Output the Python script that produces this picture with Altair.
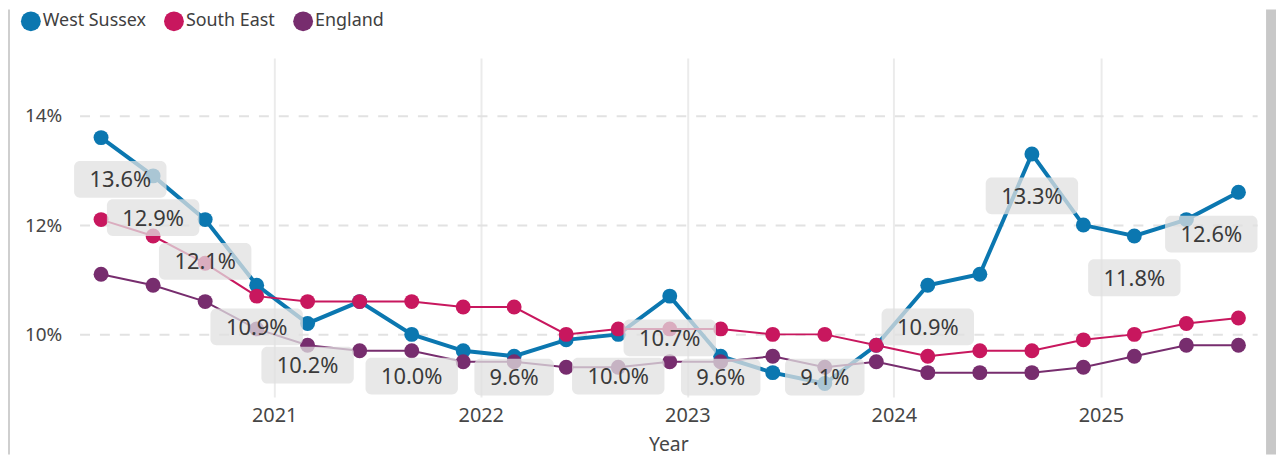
import altair as alt
import pandas as pd

# ---- data ----
dates = ["2020-03-01", "2020-06-01", "2020-09-01", "2020-12-01",
         "2021-03-01", "2021-06-01", "2021-09-01", "2021-12-01",
         "2022-03-01", "2022-06-01", "2022-09-01", "2022-12-01",
         "2023-03-01", "2023-06-01", "2023-09-01", "2023-12-01",
         "2024-03-01", "2024-06-01", "2024-09-01", "2024-12-01",
         "2025-03-01", "2025-06-01", "2025-09-01"]
west_sussex = [13.6, 12.9, 12.1, 10.9, 10.2, 10.6, 10.0, 9.7, 9.6, 9.9, 10.0, 10.7,
               9.6, 9.3, 9.1, 9.8, 10.9, 11.1, 13.3, 12.0, 11.8, 12.1, 12.6]
south_east = [12.1, 11.8, 11.3, 10.7, 10.6, 10.6, 10.6, 10.5, 10.5, 10.0, 10.1, 10.1,
              10.1, 10.0, 10.0, 9.8, 9.6, 9.7, 9.7, 9.9, 10.0, 10.2, 10.3]
england = [11.1, 10.9, 10.6, 10.1, 9.8, 9.7, 9.7, 9.5, 9.5, 9.4, 9.4, 9.5,
           9.5, 9.6, 9.4, 9.5, 9.3, 9.3, 9.3, 9.4, 9.6, 9.8, 9.8]
ws_labelled = [True, True, True, True, True, False, True, False, True, False, True, True,
               True, False, True, False, True, False, True, False, True, False, True]
series_names = ["West Sussex", "South East", "England"]
series_colors = ["#0B77B0", "#C8175E", "#772D6E"]
series_widths = [4, 2, 2]
y_ticks = [10, 12, 14]
x_tick_years = [2021, 2022, 2023, 2024, 2025]

rows = []
for name, vals in zip(series_names, [west_sussex, south_east, england]):
    for d, v in zip(dates, vals):
        rows.append({"date": d, "series": name, "value": v})
df = pd.DataFrame(rows)

lab_df = pd.DataFrame({"date": dates, "value": west_sussex, "show": ws_labelled})
lab_df = lab_df[lab_df["show"]].drop(columns="show")

FONT = "Noto Sans"
TXT = "#464646"

x_scale = alt.Scale(type="utc",
                    domain=[alt.DateTime(year=2020, month=1, date=23, utc=True),
                            alt.DateTime(year=2025, month=10, date=4, utc=True)])
y_scale = alt.Scale(domain=[8.855, 15.055], nice=False, zero=False)

x_axis = alt.Axis(values=[alt.DateTime(year=y, month=1, date=1, utc=True) for y in x_tick_years],
                  format="%Y", grid=True, gridColor="#ebebeb", gridWidth=2,
                  domain=False, ticks=False, labelFontSize=20, labelColor=TXT,
                  labelFont=FONT, labelPadding=9, title="Year", titleFontSize=19.5,
                  titleFont=FONT, titleFontWeight="normal", titleColor=TXT, titlePadding=10)
y_axis = alt.Axis(values=y_ticks, labelExpr="datum.value + '%'", grid=True,
                  gridDash=[10, 10], gridColor="#e2e2e2", gridWidth=2, domain=False,
                  ticks=False, labelFontSize=19, labelColor=TXT, labelFont=FONT,
                  labelPadding=18, title=None)

X = alt.X("date:T", scale=x_scale, axis=x_axis, title="Year")
Y = alt.Y("value:Q", scale=y_scale, axis=y_axis, title=None)

color = alt.Color("series:N",
                  scale=alt.Scale(domain=series_names, range=series_colors),
                  legend=alt.Legend(orient="none", legendX=-59, legendY=-47,
                                    direction="horizontal", title=None,
                                    symbolType="circle", symbolSize=400,
                                    symbolStrokeWidth=0, labelFontSize=18,
                                    labelFont=FONT, labelColor="#404040",
                                    labelOffset=2, columnPadding=18, padding=0))

layers = []

# frame decorations (screenshot border / scrollbar strip)
deco = pd.DataFrame({"k": [0]})
layers.append(alt.Chart(deco).mark_rect(color="#cfcfcf").encode(
    x=alt.value(-72), x2=alt.value(-70), y=alt.value(-49), y2=alt.value(399)))
layers.append(alt.Chart(deco).mark_rect(color="#c8c8c8").encode(
    x=alt.value(1194), x2=alt.value(1204), y=alt.value(-49), y2=alt.value(399)))

for name, col, w in zip(series_names, series_colors, series_widths):
    base = alt.Chart(df).transform_filter(alt.datum.series == name)
    layers.append(base.mark_line(color=col, strokeWidth=w).encode(x=X, y=Y))
    layers.append(base.mark_circle(size=225, opacity=1).encode(x=X, y=Y, color=color))

lab = alt.Chart(lab_df).transform_calculate(
    labelx="clamp(time(toDate(datum.date)), utc(2020,3,4), utc(2025,6,15))",
    labely="max(datum.value - 0.764, 9.218)",
    label="format(datum.value, '.1f') + '%'",
    n="length(format(datum.value, '.1f') + '%')",
)
LX = alt.X("labelx:T", scale=x_scale, axis=x_axis, title="Year")
LY = alt.Y("labely:Q", scale=y_scale, axis=y_axis, title=None)

for n, half in [(5, 46.5), (4, 40)]:
    layers.append(
        lab.transform_filter(alt.datum.n == n).mark_rect(
            xOffset=-half, x2Offset=half, yOffset=-18.5, y2Offset=18.5,
            cornerRadius=6, fill="#e0e0e0", opacity=0.75
        ).encode(x=LX, x2="labelx:T", y=LY, y2="labely:Q")
    )

layers.append(
    lab.mark_text(fontSize=22, font=FONT, color="#3a3a3a", align="center",
                  baseline="middle", dy=1).encode(x=LX, y=LY, text="label:N")
)

chart = alt.layer(*layers).properties(
    width=1185, height=341,
    autosize=alt.AutoSizeParams(type="none"),
    padding={"left": 72, "top": 49, "right": 19, "bottom": 58},
    background="white",
).configure_view(stroke=None)

chart.save("out.html", embed_options={"renderer": "svg", "actions": False})
